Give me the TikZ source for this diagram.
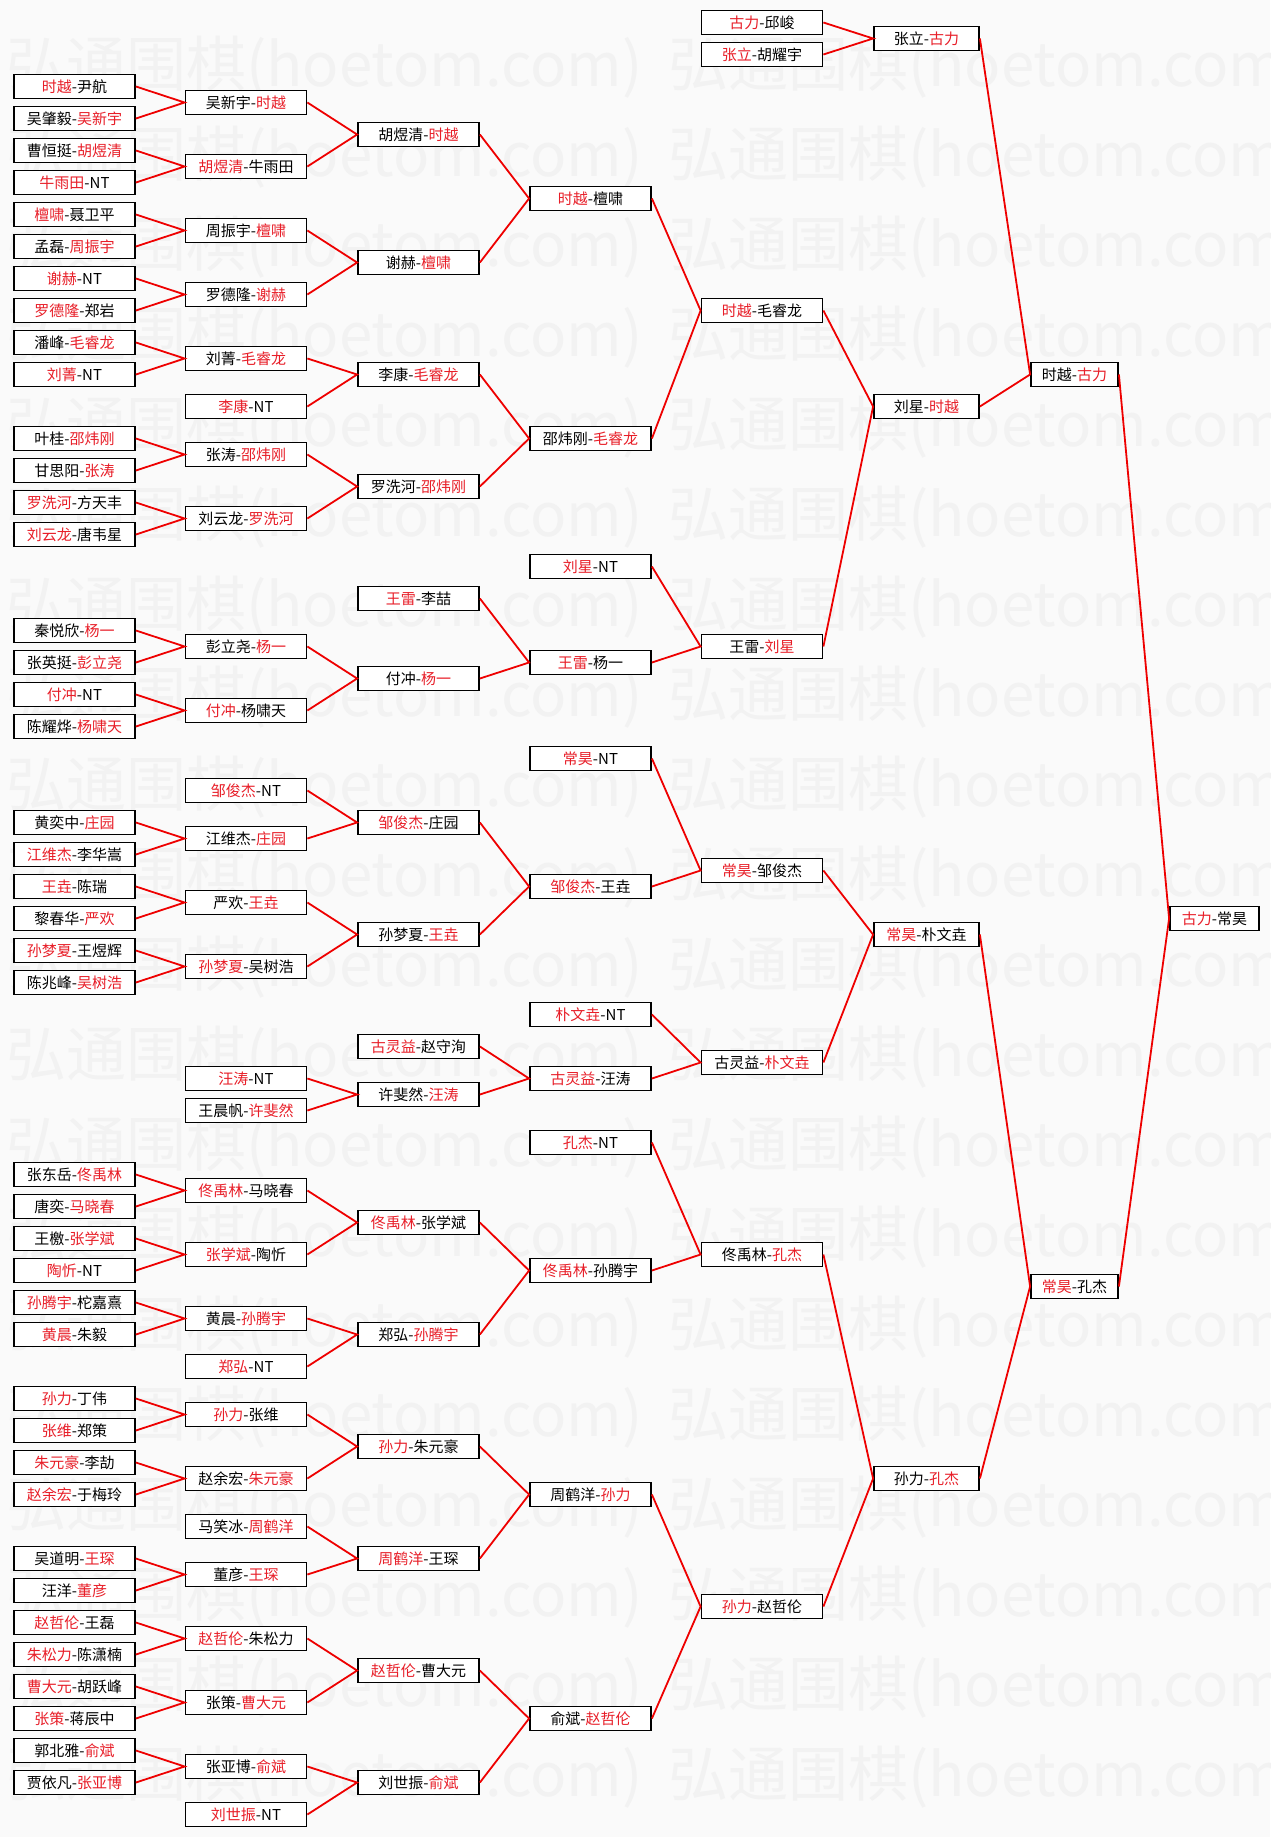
\documentclass[tikz,border=0pt]{standalone}
\usepackage{fontspec}
\setmainfont{Noto Sans CJK SC}
\usepackage{tikz}

\definecolor{wred}{RGB}{232,30,40}
\definecolor{lred}{RGB}{238,0,0}
\definecolor{bgcol}{RGB}{250,250,250}
\definecolor{wgray}{RGB}{242,242,242}
\newcommand{\win}[1]{\textcolor{wred}{#1}}
\def\rowtop{86.5}
\def\rowsep{32}

\begin{document}
\begin{tikzpicture}[x=1pt, y=-1pt, font=\fontsize{15}{18}\selectfont]
  \tikzstyle{player}=[draw=black, line width=1.8pt, fill=white, minimum height=24pt, inner sep=0pt]
  \tikzstyle{link}=[draw=lred, line width=1.8pt]
  \tikzstyle{wmark}=[anchor=west, inner sep=0pt, text=wgray, font=\fontsize{60}{60}\selectfont]

  \fill[bgcol] (0,0) rectangle (1270,1837);
  \useasboundingbox (0,0) rectangle (1270,1837);

  % watermark
  \begin{scope}
    \clip (0,0) rectangle (1270,1837);
    \foreach \k in {0,...,19}
      \foreach \xo/\side in {6/a,668/b}
        \node[wmark] (wm-\k-\side) at (\xo, 67+90*\k) {弘通围棋(hoetom.com)};
  \end{scope}

  % round 1
  \foreach \i/\y/\txt in {1/0/{\win{时越}-尹航}, 2/1/{吴肇毅-\win{吴新宇}}, 3/2/{曹恒挺-\win{胡煜清}},
      4/3/{\win{牛雨田}-NT}, 5/4/{\win{檀啸}-聂卫平}, 6/5/{孟磊-\win{周振宇}}, 7/6/{\win{谢赫}-NT},
      8/7/{\win{罗德隆}-郑岩}, 9/8/{潘峰-\win{毛睿龙}}, 10/9/{\win{刘菁}-NT}, 11/11/{叶桂-\win{邵炜刚}},
      12/12/{甘思阳-\win{张涛}}, 13/13/{\win{罗洗河}-方天丰}, 14/14/{\win{刘云龙}-唐韦星},
      15/17/{秦悦欣-\win{杨一}}, 16/18/{张英挺-\win{彭立尧}}, 17/19/{\win{付冲}-NT},
      18/20/{陈耀烨-\win{杨啸天}}, 19/23/{黄奕中-\win{庄园}}, 20/24/{\win{江维杰}-李华嵩},
      21/25/{\win{王垚}-陈瑞}, 22/26/{黎春华-\win{严欢}}, 23/27/{\win{孙梦夏}-王煜辉},
      24/28/{陈兆峰-\win{吴树浩}}, 25/34/{张东岳-\win{佟禹林}}, 26/35/{唐奕-\win{马晓春}},
      27/36/{王檄-\win{张学斌}}, 28/37/{\win{陶忻}-NT}, 29/38/{\win{孙腾宇}-柁嘉熹},
      30/39/{\win{黄晨}-朱毅}, 31/41/{\win{孙力}-丁伟}, 32/42/{\win{张维}-郑策},
      33/43/{\win{朱元豪}-李劼}, 34/44/{\win{赵余宏}-于梅玲}, 35/46/{吴道明-\win{王琛}},
      36/47/{汪洋-\win{董彦}}, 37/48/{\win{赵哲伦}-王磊}, 38/49/{\win{朱松力}-陈潇楠},
      39/50/{\win{曹大元}-胡跃峰}, 40/51/{\win{张策}-蒋辰中}, 41/52/{郭北雅-\win{俞斌}},
      42/53/{贾依凡-\win{张亚博}}}
    \node[player, minimum width=121pt] (A-\i) at (74.5, {\rowtop+\rowsep*\y}) {\txt};

  % round 2
  \foreach \i/\y/\txt in {1/0.5/{吴新宇-\win{时越}}, 2/2.5/{\win{胡煜清}-牛雨田}, 3/4.5/{周振宇-\win{檀啸}},
      4/6.5/{罗德隆-\win{谢赫}}, 5/8.5/{刘菁-\win{毛睿龙}}, 6/10/{\win{李康}-NT},
      7/11.5/{张涛-\win{邵炜刚}}, 8/13.5/{刘云龙-\win{罗洗河}}, 9/17.5/{彭立尧-\win{杨一}},
      10/19.5/{\win{付冲}-杨啸天}, 11/22/{\win{邹俊杰}-NT}, 12/23.5/{江维杰-\win{庄园}},
      13/25.5/{严欢-\win{王垚}}, 14/27.5/{\win{孙梦夏}-吴树浩}, 15/31/{\win{汪涛}-NT},
      16/32/{王晨帆-\win{许斐然}}, 17/34.5/{\win{佟禹林}-马晓春}, 18/36.5/{\win{张学斌}-陶忻},
      19/38.5/{黄晨-\win{孙腾宇}}, 20/40/{\win{郑弘}-NT}, 21/41.5/{\win{孙力}-张维},
      22/43.5/{赵余宏-\win{朱元豪}}, 23/45/{马笑冰-\win{周鹤洋}}, 24/46.5/{董彦-\win{王琛}},
      25/48.5/{\win{赵哲伦}-朱松力}, 26/50.5/{张策-\win{曹大元}}, 27/52.5/{张亚博-\win{俞斌}},
      28/54/{\win{刘世振}-NT}}
    \node[player, minimum width=121pt] (B-\i) at (246, {\rowtop+\rowsep*\y}) {\txt};

  % round 3
  \foreach \i/\y/\txt in {1/1.5/{胡煜清-\win{时越}}, 2/5.5/{谢赫-\win{檀啸}}, 3/9/{李康-\win{毛睿龙}},
      4/12.5/{罗洗河-\win{邵炜刚}}, 5/16/{\win{王雷}-李喆}, 6/18.5/{付冲-\win{杨一}},
      7/23/{\win{邹俊杰}-庄园}, 8/26.5/{孙梦夏-\win{王垚}}, 9/30/{\win{古灵益}-赵守洵},
      10/31.5/{许斐然-\win{汪涛}}, 11/35.5/{\win{佟禹林}-张学斌}, 12/39/{郑弘-\win{孙腾宇}},
      13/42.5/{\win{孙力}-朱元豪}, 14/46/{\win{周鹤洋}-王琛}, 15/49.5/{\win{赵哲伦}-曹大元},
      16/53/{刘世振-\win{俞斌}}}
    \node[player, minimum width=121pt] (C-\i) at (418.5, {\rowtop+\rowsep*\y}) {\txt};

  % round 4
  \foreach \i/\y/\txt in {1/3.5/{\win{时越}-檀啸}, 2/11/{邵炜刚-\win{毛睿龙}}, 3/15/{\win{刘星}-NT},
      4/18/{\win{王雷}-杨一}, 5/21/{\win{常昊}-NT}, 6/25/{\win{邹俊杰}-王垚},
      7/29/{\win{朴文垚}-NT}, 8/31/{\win{古灵益}-汪涛}, 9/33/{\win{孔杰}-NT},
      10/37/{\win{佟禹林}-孙腾宇}, 11/44/{周鹤洋-\win{孙力}}, 12/51/{俞斌-\win{赵哲伦}}}
    \node[player, minimum width=121pt] (D-\i) at (590.5, {\rowtop+\rowsep*\y}) {\txt};

  % round 5
  \foreach \i/\y/\txt in {1/-2/{\win{古力}-邱峻}, 2/-1/{\win{张立}-胡耀宇}, 3/7/{\win{时越}-毛睿龙},
      4/17.5/{王雷-\win{刘星}}, 5/24.5/{\win{常昊}-邹俊杰}, 6/30.5/{古灵益-\win{朴文垚}},
      7/36.5/{佟禹林-\win{孔杰}}, 8/47.5/{\win{孙力}-赵哲伦}}
    \node[player, minimum width=121pt] (E-\i) at (762, {\rowtop+\rowsep*\y}) {\txt};

  % round 6
  \foreach \i/\y/\txt in {1/-1.5/{张立-\win{古力}}, 2/10/{刘星-\win{时越}},
      3/26.5/{\win{常昊}-朴文垚}, 4/43.5/{孙力-\win{孔杰}}}
    \node[player, minimum width=105pt] (F-\i) at (926.5, {\rowtop+\rowsep*\y}) {\txt};

  % semifinal and final
  \node[player, minimum width=87pt] (G-1) at (1074.5, {\rowtop+\rowsep*9}) {时越-\win{古力}};
  \node[player, minimum width=87pt] (G-2) at (1074.5, {\rowtop+\rowsep*37.5}) {\win{常昊}-孔杰};
  \node[player, minimum width=89pt] (H-1) at (1214.5, {\rowtop+\rowsep*26}) {\win{古力}-常昊};

  % links: upper / lower / next
  \foreach \a/\b/\p in {A-1/A-2/B-1, A-3/A-4/B-2, A-5/A-6/B-3, A-7/A-8/B-4, A-9/A-10/B-5,
      A-11/A-12/B-7, A-13/A-14/B-8, A-15/A-16/B-9, A-17/A-18/B-10, A-19/A-20/B-12,
      A-21/A-22/B-13, A-23/A-24/B-14, A-25/A-26/B-17, A-27/A-28/B-18, A-29/A-30/B-19,
      A-31/A-32/B-21, A-33/A-34/B-22, A-35/A-36/B-24, A-37/A-38/B-25, A-39/A-40/B-26,
      A-41/A-42/B-27,
      B-1/B-2/C-1, B-3/B-4/C-2, B-5/B-6/C-3, B-7/B-8/C-4, B-9/B-10/C-6, B-11/B-12/C-7,
      B-13/B-14/C-8, B-15/B-16/C-10, B-17/B-18/C-11, B-19/B-20/C-12, B-21/B-22/C-13,
      B-23/B-24/C-14, B-25/B-26/C-15, B-27/B-28/C-16,
      C-1/C-2/D-1, C-3/C-4/D-2, C-5/C-6/D-4, C-7/C-8/D-6, C-9/C-10/D-8, C-11/C-12/D-10,
      C-13/C-14/D-11, C-15/C-16/D-12,
      D-1/D-2/E-3, D-3/D-4/E-4, D-5/D-6/E-5, D-7/D-8/E-6, D-9/D-10/E-7, D-11/D-12/E-8,
      E-1/E-2/F-1, E-3/E-4/F-2, E-5/E-6/F-3, E-7/E-8/F-4,
      F-1/F-2/G-1, F-3/F-4/G-2,
      G-1/G-2/H-1}
    \draw[link] (\a.east) -- (\p.west) -- (\b.east);
\end{tikzpicture}
\end{document}
